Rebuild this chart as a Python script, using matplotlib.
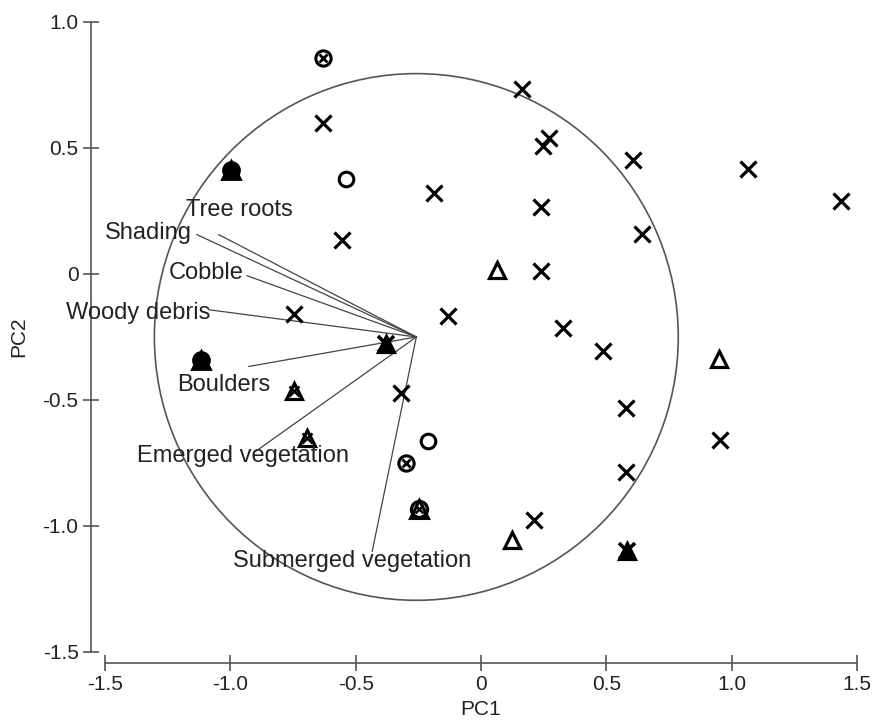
import matplotlib
matplotlib.use("Agg")
import matplotlib.pyplot as plt
from matplotlib.patches import Circle

plt.rcParams['font.family'] = ['Liberation Sans', 'DejaVu Sans']

# ---------------- data ----------------
# sites plotted with a cross
cross_pc1 = [0.162, -0.631, 0.271, 0.249, 0.608, 1.066, 1.436, -0.186, 0.238, 0.644,
             -0.556, 0.238, -0.747, -0.131, 0.329, 0.488, -0.321, 0.580, 0.953, 0.580, 0.212]
cross_pc2 = [0.733, 0.600, 0.538, 0.505, 0.452, 0.415, 0.287, 0.321, 0.265, 0.159,
             0.132, 0.009, -0.159, -0.169, -0.215, -0.308, -0.473, -0.533, -0.659, -0.785, -0.976]
# open circles
circle_pc1 = [-0.540, -0.213]
circle_pc2 = [0.376, -0.663]
# open triangles
tri_pc1 = [0.065, 0.948, 0.125]
tri_pc2 = [0.016, -0.339, -1.056]
# circle + cross (overlapping)
circ_cross_pc1 = [-0.631, -0.298]
circ_cross_pc2 = [0.856, -0.751]
# triangle + cross (overlapping)
tri_cross_pc1 = [-0.744, -0.693]
tri_cross_pc2 = [-0.467, -0.652]
# circle + triangle + cross, dense (filled look)
full_circ_pc1 = [-0.999, -1.115]
full_circ_pc2 = [0.410, -0.341]
# triangle + cross dense (filled look)
full_tri_pc1 = [-0.378, 0.584]
full_tri_pc2 = [-0.280, -1.102]
# circle-cross + triangle
circ_tri_pc1 = [-0.248]
circ_tri_pc2 = [-0.934]

# environmental vectors
variables = ["Tree roots", "Shading", "Cobble", "Woody debris", "Boulders",
             "Emerged vegetation", "Submerged vegetation"]
vec_pc1 = [-1.046, -1.133, -0.933, -1.086, -0.926, -0.899, -0.434]
vec_pc2 = [0.155, 0.155, -0.008, -0.143, -0.368, -0.705, -1.102]
origin = (-0.258, -0.251)
circle_radius = 1.045

# label positions (centres of text)
label_x = [-0.962, -1.325, -1.096, -1.369, -1.026, -0.948, -0.514]
label_y = [0.254, 0.163, 0.003, -0.156, -0.440, -0.725, -1.142]

xticks = [-1.5, -1.0, -0.5, 0, 0.5, 1.0, 1.5]
xtick_labels = ["-1.5", "-1.0", "-0.5", "0", "0.5", "1.0", "1.5"]
yticks = [-1.5, -1.0, -0.5, 0, 0.5, 1.0]
ytick_labels = ["-1.5", "-1.0", "-0.5", "0", "0.5", "1.0"]

# ---------------- figure ----------------
fig = plt.figure(figsize=(8.77, 7.21), dpi=100)
ax = fig.add_axes([0.1197, 0.0961, 0.8575, 0.8738])
ax.set_xlim(-1.5, 1.5)
ax.set_ylim(-1.5, 1.0)

axis_col = '#555555'
for s in ['top', 'right']:
    ax.spines[s].set_visible(False)
ax.spines['left'].set_position(('outward', 10))
ax.spines['bottom'].set_position(('outward', 8))
ax.spines['left'].set_bounds(-1.5, 1.0)
ax.spines['bottom'].set_bounds(-1.5, 1.5)
for s in ['left', 'bottom']:
    ax.spines[s].set_color(axis_col)
    ax.spines[s].set_linewidth(1.2)

ax.set_xticks(xticks)
ax.set_xticklabels(xtick_labels)
ax.set_yticks(yticks)
ax.set_yticklabels(ytick_labels)
ax.tick_params(direction='inout', length=12, width=1.2, color=axis_col,
               labelsize=15, labelcolor='#222222', pad=3)
ax.set_xlabel("PC1", fontsize=15, color='#222222', labelpad=4)
ax.set_ylabel("PC2", fontsize=15, color='#222222', labelpad=10)

# big circle
ax.add_patch(Circle(origin, circle_radius, fill=False, edgecolor='#555555', lw=1.2, zorder=2))

# vectors & labels
for name, vx, vy, lx, ly in zip(variables, vec_pc1, vec_pc2, label_x, label_y):
    ax.plot([origin[0], vx], [origin[1], vy], color='#444444', lw=0.9, zorder=3)
    ax.text(lx, ly, name, fontsize=17, color='#222222', ha='center', va='center', zorder=6)

k = 'black'
ms_x, mew = 11, 2.3
# crosses
ax.plot(cross_pc1, cross_pc2, ls='none', marker='x', ms=ms_x, mew=mew, color=k, zorder=5)
# open circles
ax.plot(circle_pc1, circle_pc2, ls='none', marker='o', ms=10.5, mew=2.2,
        mfc='none', mec=k, zorder=5)
# open triangles
ax.plot(tri_pc1, tri_pc2, ls='none', marker='^', ms=12, mew=2.3,
        mfc='none', mec=k, zorder=5)
# circle + cross
ax.plot(circ_cross_pc1, circ_cross_pc2, ls='none', marker='o', ms=11, mew=2.2,
        mfc='none', mec=k, zorder=5)
ax.plot(circ_cross_pc1, circ_cross_pc2, ls='none', marker='x', ms=6, mew=2,
        color=k, zorder=5)
# triangle + cross
ax.plot(tri_cross_pc1, tri_cross_pc2, ls='none', marker='^', ms=12, mew=2.3,
        mfc='none', mec=k, zorder=5)
ax.plot(tri_cross_pc1, tri_cross_pc2, ls='none', marker='x', ms=7, mew=1.8,
        color=k, zorder=5)
# dense circles
ax.plot(full_circ_pc1, full_circ_pc2, ls='none', marker='o', ms=12, mew=1.5,
        mfc=k, mec=k, zorder=5)
ax.plot(full_circ_pc1, full_circ_pc2, ls='none', marker='^', ms=13, mew=2,
        mfc=k, mec=k, zorder=5)
# dense triangles
ax.plot(full_tri_pc1, full_tri_pc2, ls='none', marker='^', ms=12, mew=2.3,
        mfc=k, mec=k, zorder=5)
ax.plot(full_tri_pc1, full_tri_pc2, ls='none', marker='x', ms=12, mew=2.6,
        color=k, zorder=5)
# circle + cross + triangle
ax.plot(circ_tri_pc1, circ_tri_pc2, ls='none', marker='o', ms=11.5, mew=2.4,
        mfc='none', mec=k, zorder=5)
ax.plot(circ_tri_pc1, circ_tri_pc2, ls='none', marker='^', ms=13, mew=2.2,
        mfc='none', mec=k, zorder=5)
ax.plot(circ_tri_pc1, circ_tri_pc2, ls='none', marker='x', ms=6, mew=1.8,
        color=k, zorder=5)

fig.savefig("out.png", dpi=100, facecolor='white')
